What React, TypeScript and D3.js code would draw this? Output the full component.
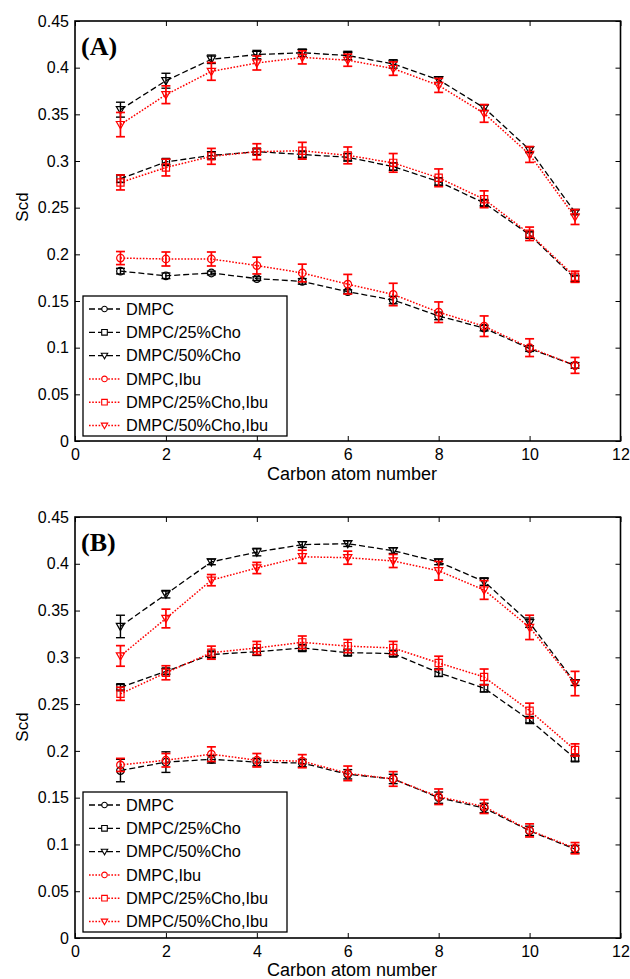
import React, { useEffect, useRef } from "react";
import * as d3 from "d3";

// carbon positions along the chain
const carbon = [1, 2, 3, 4, 5, 6, 7, 8, 9, 10, 11];
const xTicks = [0, 2, 4, 6, 8, 10, 12];
const yTicks = [0, 0.05, 0.1, 0.15, 0.2, 0.25, 0.3, 0.35, 0.4, 0.45];
const seriesNames = ["DMPC", "DMPC/25%Cho", "DMPC/50%Cho", "DMPC,Ibu", "DMPC/25%Cho,Ibu", "DMPC/50%Cho,Ibu"];

// panel A
const aDmpc = [0.182, 0.177, 0.180, 0.174, 0.171, 0.160, 0.151, 0.134, 0.121, 0.099, 0.081];
const aDmpcErr = [0.003, 0.003, 0.002, 0.002, 0.003, 0.002, 0.004, 0.004, 0.003, 0.003, 0.003];
const aCho25 = [0.281, 0.299, 0.306, 0.310, 0.307, 0.304, 0.294, 0.278, 0.255, 0.221, 0.174];
const aCho25Err = [0.004, 0.003, 0.004, 0.003, 0.003, 0.004, 0.004, 0.004, 0.003, 0.003, 0.003];
const aCho50 = [0.355, 0.386, 0.409, 0.414, 0.416, 0.413, 0.404, 0.387, 0.357, 0.312, 0.245];
const aCho50Err = [0.008, 0.008, 0.0045, 0.0045, 0.004, 0.0045, 0.0045, 0.003, 0.003, 0.003, 0.0025];
const aIbu = [0.196, 0.195, 0.195, 0.188, 0.180, 0.168, 0.157, 0.138, 0.123, 0.100, 0.081];
const aIbuErr = [0.007, 0.0075, 0.0075, 0.009, 0.0095, 0.0105, 0.012, 0.011, 0.011, 0.0095, 0.0085];
const aCho25Ibu = [0.277, 0.293, 0.305, 0.310, 0.311, 0.306, 0.298, 0.282, 0.259, 0.222, 0.176];
const aCho25IbuErr = [0.008, 0.009, 0.0085, 0.0085, 0.009, 0.009, 0.010, 0.0095, 0.009, 0.0072, 0.006];
const aCho50Ibu = [0.339, 0.371, 0.396, 0.405, 0.411, 0.408, 0.399, 0.381, 0.351, 0.307, 0.240];
const aCho50IbuErr = [0.013, 0.0095, 0.0095, 0.0075, 0.007, 0.0065, 0.0072, 0.0075, 0.0095, 0.0085, 0.008];

// panel B
const bDmpc = [0.179, 0.188, 0.191, 0.188, 0.187, 0.175, 0.170, 0.150, 0.139, 0.1145, 0.095];
const bDmpcErr = [0.012, 0.011, 0.004, 0.004, 0.004, 0.005, 0.005, 0.006, 0.005, 0.005, 0.004];
const bCho25 = [0.268, 0.285, 0.303, 0.306, 0.310, 0.305, 0.304, 0.2835, 0.267, 0.233, 0.192];
const bCho25Err = [0.003, 0.003, 0.003, 0.004, 0.003, 0.003, 0.003, 0.004, 0.004, 0.003, 0.003];
const bCho50 = [0.333, 0.3675, 0.402, 0.4125, 0.4205, 0.4215, 0.414, 0.402, 0.381, 0.337, 0.273];
const bCho50Err = [0.012, 0.004, 0.003, 0.004, 0.003, 0.003, 0.003, 0.003, 0.004, 0.005, 0.003];
const bIbu = [0.185, 0.190, 0.1965, 0.190, 0.189, 0.176, 0.170, 0.151, 0.1405, 0.115, 0.096];
const bIbuErr = [0.007, 0.0072, 0.0078, 0.0072, 0.007, 0.0078, 0.0078, 0.0083, 0.0074, 0.007, 0.006];
const bCho25Ibu = [0.261, 0.2835, 0.305, 0.310, 0.316, 0.312, 0.310, 0.294, 0.279, 0.243, 0.201];
const bCho25IbuErr = [0.007, 0.0075, 0.007, 0.007, 0.0068, 0.007, 0.007, 0.0072, 0.0085, 0.008, 0.0065];
const bCho50Ibu = [0.3015, 0.3415, 0.3825, 0.3955, 0.4075, 0.4065, 0.403, 0.3925, 0.372, 0.332, 0.272];
const bCho50IbuErr = [0.011, 0.01, 0.006, 0.006, 0.007, 0.007, 0.007, 0.01, 0.01, 0.013, 0.013];

const markers = ["circle", "square", "triangle", "circle", "square", "triangle"];
const colors = ["#000", "#000", "#000", "#ff0000", "#ff0000", "#ff0000"];
const dashes = ["6,3", "6,3", "6,3", "1.6,1.6", "1.6,1.6", "1.6,1.6"];

const FONT = "'Liberation Sans', Arial, Helvetica, sans-serif";

function markerPath(kind: string, s: number) {
  if (kind === "circle") return d3.symbol(d3.symbolCircle, Math.PI * s * s)();
  if (kind === "square") return `M${-s},${-s}H${s}V${s}H${-s}Z`;
  const h = s * 1.15;
  return `M0,${h}L${-h},${-h * 0.75}L${h},${-h * 0.75}Z`;
}

function drawPanel(node: SVGGElement, cfg: any) {
  const g = d3.select(node);
  g.selectAll("*").remove();
  const { top, bottom, left, right, label, values, errors, legendTop, yLabelY, xLabelY } = cfg;

  const x = d3.scaleLinear().domain([0, 12]).range([left, right]);
  const y = d3.scaleLinear().domain([0, 0.45]).range([bottom, top]);
  const fmt = (d: any) => (d === 0 ? "0" : String(+(+d).toFixed(2)));

  const bx = g.append("g").attr("transform", `translate(0,${bottom})`)
    .call(d3.axisBottom(x).tickValues(xTicks).tickSize(-5).tickPadding(8).tickFormat(fmt as any));
  const ly = g.append("g").attr("transform", `translate(${left},0)`)
    .call(d3.axisLeft(y).tickValues(yTicks).tickSize(-5).tickPadding(6).tickFormat(fmt as any));
  const tx = g.append("g").attr("transform", `translate(0,${top})`)
    .call(d3.axisTop(x).tickValues(xTicks).tickSize(-5).tickFormat(() => ""));
  const ry = g.append("g").attr("transform", `translate(${right},0)`)
    .call(d3.axisRight(y).tickValues(yTicks).tickSize(-5).tickFormat(() => ""));
  [bx, ly, tx, ry].forEach(a => {
    a.select(".domain").remove();
    a.selectAll("line").attr("stroke", "#000").attr("stroke-width", 1);
    a.selectAll("text").attr("font-family", FONT).attr("font-size", 16).attr("fill", "#000");
  });

  const line = d3.line<number>().x((_, i) => x(carbon[i])).y(d => y(d));

  values.forEach((vals: number[], s: number) => {
    const col = colors[s];
    const sg = g.append("g");
    sg.append("path")
      .attr("d", line(vals))
      .attr("fill", "none")
      .attr("stroke", col)
      .attr("stroke-width", s < 3 ? 1.3 : 1.5)
      .attr("stroke-dasharray", dashes[s]);
    const eb = sg.selectAll("g.eb").data(vals).join("g").attr("class", "eb")
      .attr("stroke", col).attr("stroke-width", s < 3 ? 1.4 : 1.7);
    eb.append("line")
      .attr("x1", (_, i) => x(carbon[i])).attr("x2", (_, i) => x(carbon[i]))
      .attr("y1", (d, i) => y(d - errors[s][i])).attr("y2", (d, i) => y(d + errors[s][i]));
    eb.append("line")
      .attr("x1", (_, i) => x(carbon[i]) - 4.5).attr("x2", (_, i) => x(carbon[i]) + 4.5)
      .attr("y1", (d, i) => y(d - errors[s][i])).attr("y2", (d, i) => y(d - errors[s][i]));
    eb.append("line")
      .attr("x1", (_, i) => x(carbon[i]) - 4.5).attr("x2", (_, i) => x(carbon[i]) + 4.5)
      .attr("y1", (d, i) => y(d + errors[s][i])).attr("y2", (d, i) => y(d + errors[s][i]));
    sg.selectAll("path.mk").data(vals).join("path").attr("class", "mk")
      .attr("d", markerPath(markers[s], markers[s] === "circle" ? 3.8 : 3.6) as string)
      .attr("transform", (d, i) => `translate(${x(carbon[i])},${y(d)})`)
      .attr("fill", "none").attr("stroke", col).attr("stroke-width", 1.2);
  });

  // frame
  g.append("rect").attr("x", left).attr("y", top).attr("width", right - left).attr("height", bottom - top)
    .attr("fill", "none").attr("stroke", "#000").attr("stroke-width", 1.6);

  g.append("text").attr("x", 81).attr("y", top + 34)
    .attr("font-family", "'Liberation Serif', 'Times New Roman', serif").attr("font-weight", "bold")
    .attr("font-size", 26).text(label);

  g.append("text").attr("x", 352).attr("y", xLabelY).attr("text-anchor", "middle")
    .attr("font-family", FONT).attr("font-size", 18).text("Carbon atom number");
  g.append("text").attr("transform", `translate(28,${yLabelY}) rotate(-90)`).attr("text-anchor", "middle")
    .attr("font-family", FONT).attr("font-size", 17).text("Scd");

  // legend
  const lg = g.append("g").attr("transform", `translate(83,${legendTop})`);
  lg.append("rect").attr("width", 204).attr("height", 140).attr("fill", "#fff")
    .attr("stroke", "#000").attr("stroke-width", 1.3);
  seriesNames.forEach((name, s) => {
    const cy = 13 + s * 23.3;
    lg.append("line").attr("x1", 6).attr("x2", 37).attr("y1", cy).attr("y2", cy)
      .attr("stroke", colors[s]).attr("stroke-width", s < 3 ? 1.3 : 1.5).attr("stroke-dasharray", dashes[s]);
    lg.append("path").attr("d", markerPath(markers[s], 2.8) as string)
      .attr("transform", `translate(21.5,${cy})`)
      .attr("fill", "#fff").attr("stroke", colors[s]).attr("stroke-width", 1.1);
    lg.append("text").attr("x", 43).attr("y", cy + 5.8)
      .attr("font-family", FONT).attr("font-size", 16.3).text(name);
  });
}

const panelA = {
  top: 21, bottom: 441, left: 75, right: 620.5, label: "(A)",
  values: [aDmpc, aCho25, aCho50, aIbu, aCho25Ibu, aCho50Ibu],
  errors: [aDmpcErr, aCho25Err, aCho50Err, aIbuErr, aCho25IbuErr, aCho50IbuErr],
  legendTop: 296, yLabelY: 207, xLabelY: 480
};
const panelB = {
  top: 517, bottom: 938, left: 75, right: 620.5, label: "(B)",
  values: [bDmpc, bCho25, bCho50, bIbu, bCho25Ibu, bCho50Ibu],
  errors: [bDmpcErr, bCho25Err, bCho50Err, bIbuErr, bCho25IbuErr, bCho50IbuErr],
  legendTop: 792, yLabelY: 727, xLabelY: 976
};

export default function App() {
  const refA = useRef<SVGGElement>(null);
  const refB = useRef<SVGGElement>(null);
  useEffect(() => {
    if (refA.current) drawPanel(refA.current, panelA);
    if (refB.current) drawPanel(refB.current, panelB);
  }, []);
  return (
    <svg width={630} height={979} style={{ position: "absolute", left: 0, top: 0, background: "#fff" }}>
      <g ref={refA} />
      <g ref={refB} />
    </svg>
  );
}
